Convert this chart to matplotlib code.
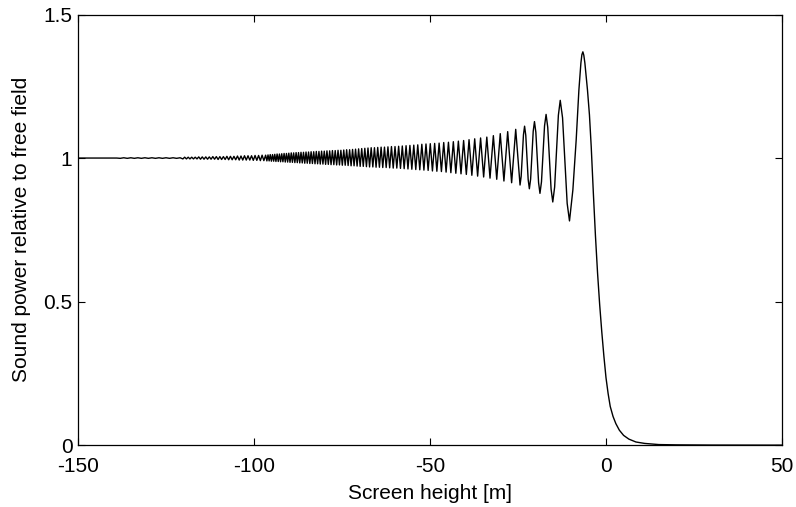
import numpy as np
import matplotlib
matplotlib.use("Agg")
from matplotlib import pyplot as plt

plt.rcParams['font.family'] = ['Liberation Sans', 'DejaVu Sans']

# maxima of the interference ripples (screen height [m], relative power)
peak_x = [-6.57, -13.00, -17.02, -20.32, -23.13, -25.65, -27.93, -30.04, -32.00, -33.86,
          -35.63, -37.30, -38.91, -40.45, -41.94, -43.37, -44.76, -46.10, -47.41, -48.68,
          -49.92, -51.14, -52.32, -53.48, -54.61, -55.71, -56.80, -57.87, -58.91, -59.94,
          -60.95, -61.95, -62.93, -63.89, -64.85, -65.78, -66.71, -67.62, -68.52, -69.40,
          -70.28, -71.15, -72.00, -72.84, -73.68, -74.50, -75.32, -76.13, -76.93, -77.72,
          -78.50, -79.28, -80.04, -80.80, -81.55, -82.30, -83.04, -83.78, -84.50, -85.22,
          -85.94, -86.65, -87.35, -88.04, -88.74, -89.42, -90.11, -90.78, -91.45, -92.12,
          -92.78, -93.44, -94.10, -94.74, -95.39, -96.02]
peak_y = [1.370, 1.201, 1.152, 1.127, 1.111, 1.100, 1.092, 1.085, 1.078, 1.073,
          1.070, 1.067, 1.064, 1.061, 1.059, 1.057, 1.055, 1.054, 1.052, 1.051,
          1.050, 1.049, 1.048, 1.046, 1.045, 1.044, 1.043, 1.042, 1.041, 1.040,
          1.040, 1.039, 1.038, 1.038, 1.037, 1.036, 1.036, 1.035, 1.034, 1.033,
          1.032, 1.031, 1.030, 1.029, 1.029, 1.028, 1.027, 1.027, 1.026, 1.026,
          1.025, 1.025, 1.024, 1.024, 1.023, 1.023, 1.022, 1.022, 1.021, 1.021,
          1.020, 1.020, 1.019, 1.019, 1.018, 1.018, 1.017, 1.016, 1.016, 1.015,
          1.014, 1.014, 1.013, 1.012, 1.012, 1.011]

# minima of the ripples
trough_x = [-10.37, -15.12, -18.76, -21.77, -24.42, -26.81, -29.00, -31.04, -32.95, -34.76,
            -36.47, -38.11, -39.68, -41.19, -42.66, -44.07, -45.43, -46.76, -48.05, -49.31,
            -50.53, -51.73, -52.90, -54.04, -55.16, -56.26, -57.34, -58.39, -59.43, -60.45,
            -61.46, -62.45, -63.42, -64.37, -65.32, -66.24, -67.17, -68.06, -68.96, -69.84,
            -70.71, -71.57, -72.42, -73.26, -74.09, -74.91, -75.72, -76.52, -77.32, -78.11,
            -78.89, -79.66, -80.42, -81.18, -81.93, -82.67, -83.41, -84.14, -84.87, -85.58,
            -86.29, -87.00, -87.70, -88.39, -89.09, -89.77, -90.44, -91.12, -91.79, -92.45,
            -93.11, -93.77, -94.41, -95.06, -95.70, -96.34]
trough_y = [0.781, 0.847, 0.877, 0.893, 0.906, 0.914, 0.920, 0.926, 0.930, 0.934,
            0.937, 0.940, 0.943, 0.945, 0.947, 0.949, 0.951, 0.953, 0.954, 0.955,
            0.957, 0.958, 0.959, 0.960, 0.961, 0.962, 0.963, 0.964, 0.965, 0.965,
            0.966, 0.967, 0.967, 0.968, 0.968, 0.969, 0.969, 0.970, 0.971, 0.971,
            0.972, 0.973, 0.973, 0.974, 0.975, 0.975, 0.976, 0.976, 0.977, 0.977,
            0.978, 0.978, 0.979, 0.979, 0.980, 0.980, 0.981, 0.981, 0.982, 0.982,
            0.983, 0.983, 0.984, 0.984, 0.985, 0.985, 0.986, 0.986, 0.987, 0.987,
            0.988, 0.988, 0.989, 0.989, 0.990, 0.990]

# flanks of the wider ripples near the edge
lobe_x = [-24.10, -23.78, -23.45, -22.79, -22.45, -22.11, -21.41, -21.05, -20.68,
          -19.93, -19.54, -19.15, -18.33, -17.89, -17.46, -16.55, -16.07, -15.60,
          -14.59, -14.06, -13.53, -12.34, -11.69, -11.03]
lobe_y = [0.936, 1.009, 1.081, 1.079, 1.002, 0.925, 0.927, 1.010, 1.093,
          1.090, 1.002, 0.914, 0.917, 1.015, 1.112, 1.107, 1.000, 0.892,
          0.899, 1.024, 1.149, 1.140, 0.991, 0.842]

# far left: ripple almost gone
far_x = [-96.7, -97.2, -97.7, -98.2, -98.7, -99.2, -99.7, -100.2,
         -100.7, -101.2, -101.7, -102.2, -102.7, -103.2, -103.7, -104.2, -104.7, -105.2,
         -105.7, -106.2, -106.7, -107.2, -107.7, -108.2, -108.7, -109.2, -109.7, -110.2,
         -110.7, -111.2, -111.7, -112.2, -112.7, -113.2, -113.7, -114.2, -114.7, -115.2,
         -115.7, -116.2, -116.7, -117.2, -117.7, -118.2, -118.7, -119.2, -119.7, -120.2,
         -121, -122, -123, -124, -125, -126, -127, -128, -129, -130,
         -131, -132, -133, -134, -135, -136, -137, -138, -139, -140,
         -141, -142, -143, -144, -145, -146, -147, -148, -149, -150]
far_y = [1.010, 0.991, 1.010, 0.991, 1.009, 0.992, 1.009, 0.992,
         1.008, 0.993, 1.008, 0.993, 1.008, 0.993, 1.007, 0.993, 1.007, 0.994,
         1.006, 0.994, 1.006, 0.994, 1.006, 0.995, 1.005, 0.995, 1.005, 0.995,
         1.005, 0.996, 1.005, 0.996, 1.004, 0.996, 1.004, 0.996, 1.004, 0.996,
         1.004, 0.997, 1.003, 0.997, 1.003, 0.997, 1.003, 0.997, 1.003, 0.997,
         1.001, 0.999, 1.001, 0.999, 1.001, 0.999, 1.001, 0.999, 1.001, 0.999,
         1.001, 0.999, 1.001, 0.999, 1.001, 0.999, 1.001, 0.999, 1.000, 1.000,
         1.000, 1.000, 1.000, 1.000, 1.000, 1.000, 1.000, 1.000, 1.000, 1.000]

# main lobe and shadow zone
edge_x = [-9.41, -8.47, -7.70, -7.13, -6.85, -6.30, -6.00, -5.26, -4.70, -4.20,
          -3.60, -3.00, -2.40, -1.80, -1.20, -0.60, 0.00, 0.60, 1.20, 2.00,
          2.80, 3.80, 5.00, 6.50, 8.50, 11.0, 15.0, 20.0, 30.0, 50.0]
edge_y = [0.889, 1.063, 1.237, 1.331, 1.360, 1.358, 1.331, 1.237, 1.150, 1.040,
          0.880, 0.730, 0.600, 0.490, 0.395, 0.310, 0.235, 0.180, 0.135, 0.100,
          0.075, 0.052, 0.034, 0.021, 0.011, 0.006, 0.002, 0.001, 0.0003, 0.0]

x = np.concatenate([peak_x, trough_x, lobe_x, far_x, edge_x])
y = np.concatenate([peak_y, trough_y, lobe_y, far_y, edge_y])
order = np.argsort(x)
x, y = x[order], y[order]

fig = plt.figure(figsize=(7.96, 5.07), dpi=100)
ax = fig.add_axes([0.098, 0.122, 0.8844, 0.8494])
ax.plot(x, y, color='k', linewidth=1.0)

ax.set_xlim(-150, 50)
ax.set_ylim(0, 1.5)
ax.set_xticks([-150, -100, -50, 0, 50])
ax.set_xticklabels(['-150', '-100', '-50', '0', '50'])
ax.set_yticks([0, 0.5, 1, 1.5])
ax.set_yticklabels(['0', '0.5', '1', '1.5'])
ax.tick_params(direction='in', length=5, width=0.8, top=True, right=True,
               labelsize=15)
ax.tick_params(axis='x', pad=8.5)
ax.tick_params(axis='y', pad=4)
for s in ax.spines.values():
    s.set_linewidth(0.9)
ax.set_xlabel('Screen height [m]', fontsize=15, labelpad=6)
ax.set_ylabel('Sound power relative to free field', fontsize=15, labelpad=9)

fig.savefig('out.png', dpi=100)
